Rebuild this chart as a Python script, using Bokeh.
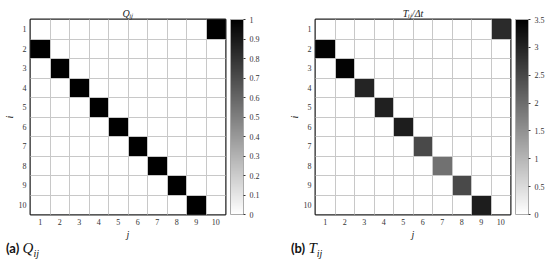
from bokeh.plotting import figure
from bokeh.models import (LinearColorMapper, ColorBar, FixedTicker, NumeralTickFormatter,
                          ColumnDataSource, Div, Title, Spacer)
from bokeh.layouts import row, column
from bokeh.palettes import Greys256
from bokeh.embed import file_html
from bokeh.resources import INLINE

# ---- data ----
rows = list(range(1, 11))
cols = list(range(1, 11))
q_matrix = [
    [0, 0, 0, 0, 0, 0, 0, 0, 0, 1],
    [1, 0, 0, 0, 0, 0, 0, 0, 0, 0],
    [0, 1, 0, 0, 0, 0, 0, 0, 0, 0],
    [0, 0, 1, 0, 0, 0, 0, 0, 0, 0],
    [0, 0, 0, 1, 0, 0, 0, 0, 0, 0],
    [0, 0, 0, 0, 1, 0, 0, 0, 0, 0],
    [0, 0, 0, 0, 0, 1, 0, 0, 0, 0],
    [0, 0, 0, 0, 0, 0, 1, 0, 0, 0],
    [0, 0, 0, 0, 0, 0, 0, 1, 0, 0],
    [0, 0, 0, 0, 0, 0, 0, 0, 1, 0],
]
t_matrix = [
    [0, 0, 0, 0, 0, 0, 0, 0, 0, 2.9],
    [3.45, 0, 0, 0, 0, 0, 0, 0, 0, 0],
    [0, 3.45, 0, 0, 0, 0, 0, 0, 0, 0],
    [0, 0, 3.0, 0, 0, 0, 0, 0, 0, 0],
    [0, 0, 0, 3.05, 0, 0, 0, 0, 0, 0],
    [0, 0, 0, 0, 3.1, 0, 0, 0, 0, 0],
    [0, 0, 0, 0, 0, 2.5, 0, 0, 0, 0],
    [0, 0, 0, 0, 0, 0, 1.95, 0, 0, 0],
    [0, 0, 0, 0, 0, 0, 0, 2.5, 0, 0],
    [0, 0, 0, 0, 0, 0, 0, 0, 3.1, 0],
]
q_ticks = [0, 0.1, 0.2, 0.3, 0.4, 0.5, 0.6, 0.7, 0.8, 0.9, 1]
t_ticks = [0, 0.5, 1, 1.5, 2, 2.5, 3, 3.5]

SERIF = "Liberation Serif"
PALETTE = list(reversed(Greys256))  # white (low) -> black (high)


def panel(matrix, vmax, cticks, title, caption, left_border, right_border, cap_indent):
    xs, ys, vs = [], [], []
    for ri, r in enumerate(rows):
        for ci, c in enumerate(cols):
            xs.append(c)
            ys.append(r)
            vs.append(matrix[ri][ci])
    src = ColumnDataSource(dict(x=xs, y=ys, v=vs))
    mapper = LinearColorMapper(palette=PALETTE, low=0, high=vmax)

    p = figure(frame_width=195, frame_height=195, output_backend="svg",
               toolbar_location=None, x_range=(0.5, 10.5), y_range=(10.5, 0.5),
               min_border_left=left_border, min_border_right=right_border,
               min_border_top=0, min_border_bottom=0)
    p.title = Title(text=title, align="center", text_font=SERIF,
                    text_font_style="italic", text_font_size="10px",
                    text_color="#222222", standoff=1)
    p.rect(x="x", y="y", width=1, height=1, source=src,
           fill_color={"field": "v", "transform": mapper}, line_color=None)

    p.xaxis.ticker = FixedTicker(ticks=cols)
    p.yaxis.ticker = FixedTicker(ticks=rows)
    for ax in (p.xaxis, p.yaxis):
        ax.major_tick_out = 0
        ax.major_tick_in = 0
        ax.minor_tick_out = 0
        ax.minor_tick_in = 0
        ax.axis_line_color = None
        ax.major_label_text_font = SERIF
        ax.major_label_text_font_size = "8px"
        ax.major_label_text_color = "#333333"
        ax.axis_label_text_font = SERIF
        ax.axis_label_text_font_style = "italic"
        ax.axis_label_text_font_size = "10px"
        ax.axis_label_text_color = "#222222"
        ax.major_label_standoff = 4
        ax.axis_label_standoff = 1
    p.xaxis.axis_label = "j"
    p.yaxis.axis_label = "i"

    p.xgrid.ticker = FixedTicker(ticks=[c + 0.5 for c in cols[:-1]])
    p.ygrid.ticker = FixedTicker(ticks=[r + 0.5 for r in rows[:-1]])
    for g in (p.xgrid, p.ygrid):
        g.grid_line_color = "#c8c8c8"
        g.grid_line_width = 1
        g.level = "overlay"

    p.outline_line_color = "#222222"
    p.outline_line_width = 2
    p.background_fill_color = "white"
    p.border_fill_color = "white"

    cb = ColorBar(color_mapper=mapper, ticker=FixedTicker(ticks=cticks),
                  formatter=NumeralTickFormatter(format="0.[0]"),
                  width=13, padding=0, margin=0, location=(5, 0),
                  major_label_text_font=SERIF, major_label_text_font_size="8px",
                  major_label_text_color="#333333",
                  major_tick_line_color="#333333", major_tick_in=0, major_tick_out=2,
                  minor_tick_line_color=None,
                  bar_line_color="#aaaaaa", bar_line_width=1,
                  label_standoff=4, background_fill_color=None)
    p.add_layout(cb, "right")

    div = Div(text=caption, width=250, height=18,
              styles={"font-family": "Lato, 'Noto Sans', sans-serif",
                      "font-size": "13px", "color": "#111111",
                      "margin-top": "-4px", "padding-left": f"{cap_indent}px"})
    return column(Spacer(height=5), p, div, spacing=0)


cap_a = "<b>(a)</b> <i style=\"font-family:'Liberation Serif',serif;font-size:15px\">Q<sub style='font-size:10px'>ij</sub></i>"
cap_b = "<b>(b)</b> <i style=\"font-family:'Liberation Serif',serif;font-size:15px\">T<sub style='font-size:10px'>ij</sub></i>"

left = panel(q_matrix, 1, q_ticks, "Qᵢⱼ", cap_a, 21, 51, 1)
right = panel(t_matrix, 3.5, t_ticks, "Tᵢⱼ/Δt", cap_b, 39, 0, 10)

layout = row(left, right, spacing=0)
open("out.html", "w").write(file_html(layout, INLINE))
